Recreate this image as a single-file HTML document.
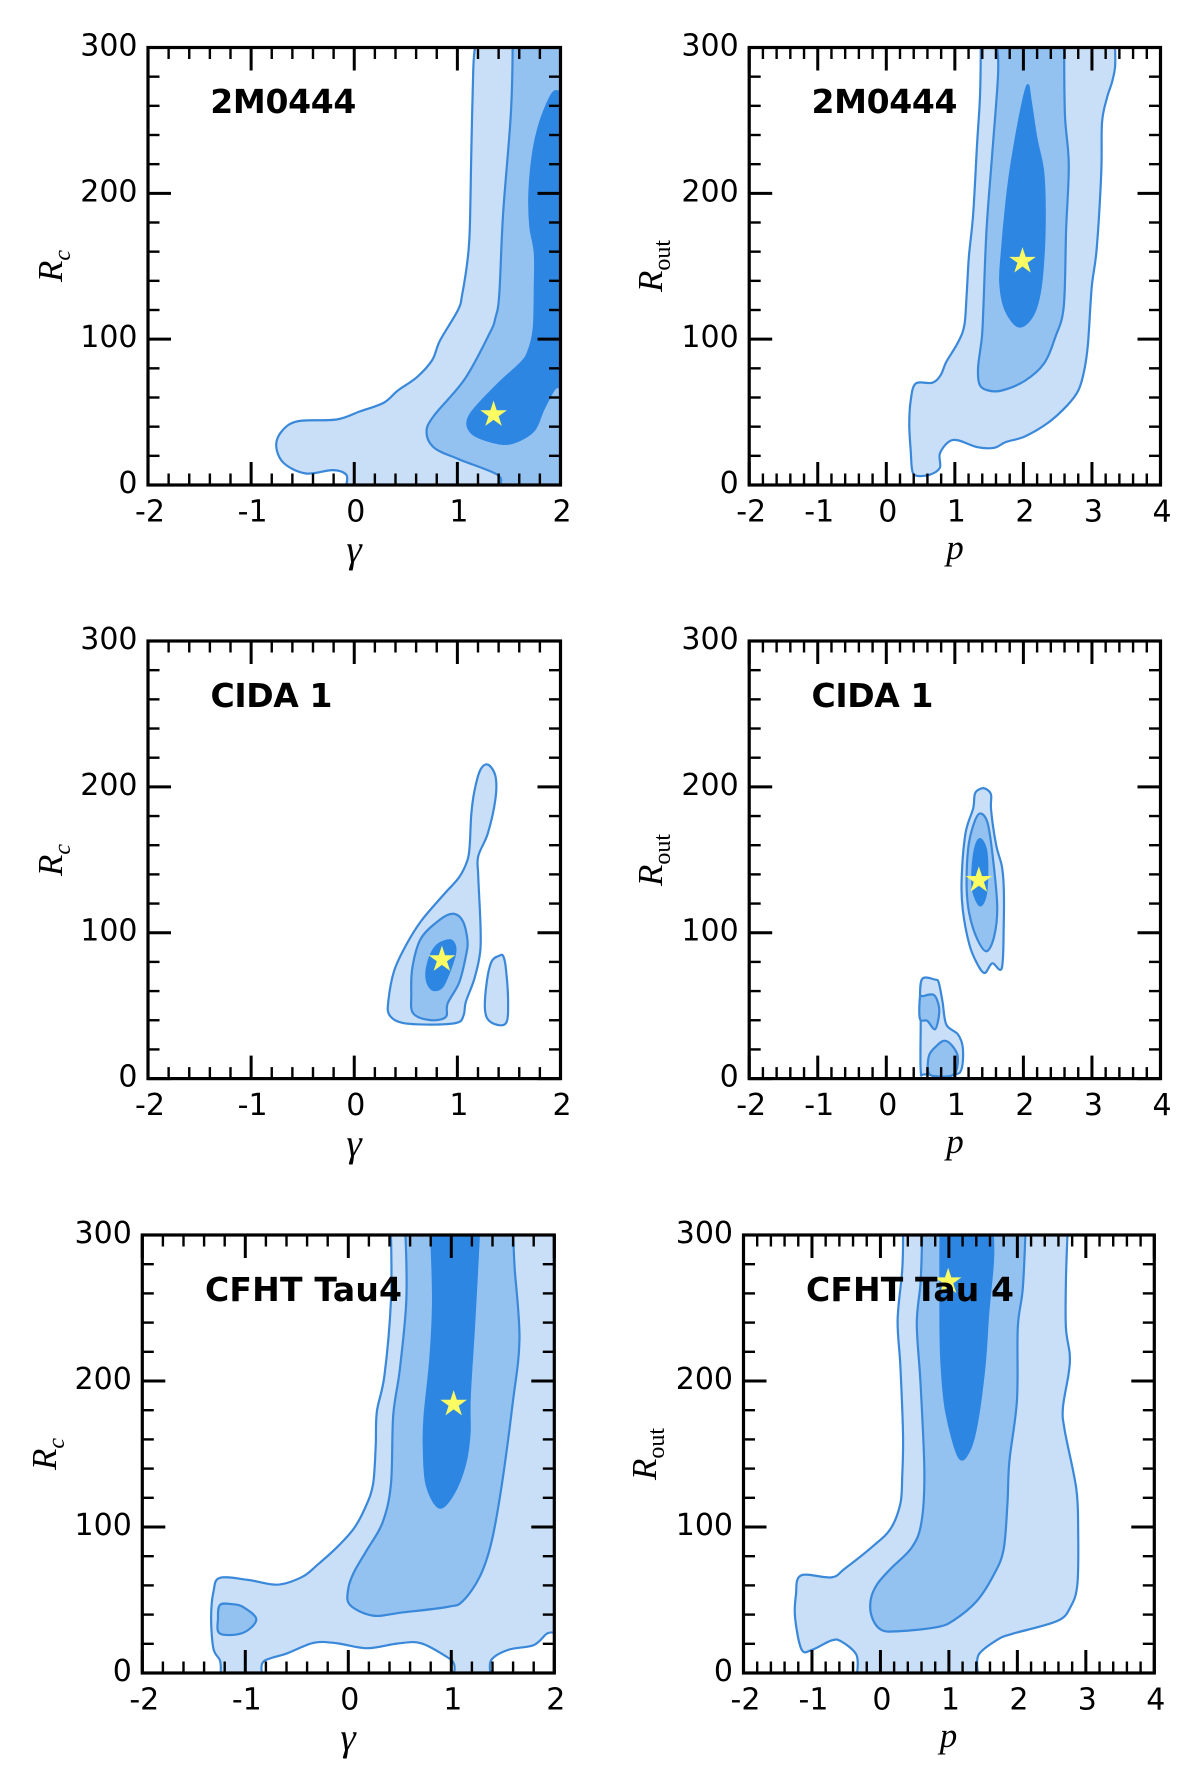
<!DOCTYPE html>
<html lang="en">
<head>
<meta charset="utf-8">
<title>Contour panels</title>
<style>
html,body{margin:0;padding:0;background:#fff;width:1200px;height:1786px;overflow:hidden}
svg{display:block}
.tick-label{font-family:"DejaVu Sans",sans-serif;font-size:30px;fill:#000}
.panel-title{font-family:"DejaVu Sans",sans-serif;font-weight:bold;font-size:33px;fill:#000}
.axis-math{font-family:"Liberation Serif",serif;font-style:italic;font-size:35px;fill:#000}
.gamma-math{font-size:39px}
.sub-italic{font-family:"Liberation Serif",serif;font-style:italic;font-size:24px}
.sub-roman{font-family:"Liberation Serif",serif;font-style:normal;font-size:24px}
</style>
</head>
<body>
<svg id="figure" xmlns="http://www.w3.org/2000/svg" width="1200" height="1786" viewBox="0 0 1200 1786">
  <g id="p1">
    <g class="marks"></g>
    <g class="axes"></g>
    <text class="panel-title" x="210.3" y="113" textLength="146">2M0444</text>
    <text class="axis-math gamma-math" x="354" y="562" text-anchor="middle">γ</text>
    <text class="axis-math" transform="translate(62,266) rotate(-90)" text-anchor="middle">R<tspan class="sub-italic" dy="8">c</tspan></text>
  </g>
  <g id="p2">
    <g class="marks"></g>
    <g class="axes"></g>
    <text class="panel-title" x="811.5" y="113" textLength="146">2M0444</text>
    <text class="axis-math" x="955" y="559" text-anchor="middle">p</text>
    <text class="axis-math" transform="translate(662,266) rotate(-90)" text-anchor="middle">R<tspan class="sub-roman" dy="8">out</tspan></text>
  </g>
  <g id="p3">
    <g class="marks"></g>
    <g class="axes"></g>
    <text class="panel-title" x="210.5" y="707" textLength="122">CIDA 1</text>
    <text class="axis-math gamma-math" x="354" y="1156" text-anchor="middle">γ</text>
    <text class="axis-math" transform="translate(62,860) rotate(-90)" text-anchor="middle">R<tspan class="sub-italic" dy="8">c</tspan></text>
  </g>
  <g id="p4">
    <g class="marks"></g>
    <g class="axes"></g>
    <text class="panel-title" x="811.5" y="707" textLength="122">CIDA 1</text>
    <text class="axis-math" x="955" y="1153" text-anchor="middle">p</text>
    <text class="axis-math" transform="translate(662,860) rotate(-90)" text-anchor="middle">R<tspan class="sub-roman" dy="8">out</tspan></text>
  </g>
  <g id="p5">
    <g class="marks"></g>
    <g class="axes"></g>
    <text class="panel-title" x="205" y="1301" textLength="197">CFHT Tau4</text>
    <text class="axis-math gamma-math" x="348" y="1750" text-anchor="middle">γ</text>
    <text class="axis-math" transform="translate(56,1454) rotate(-90)" text-anchor="middle">R<tspan class="sub-italic" dy="8">c</tspan></text>
  </g>
  <g id="p6">
    <g class="marks"></g>
    <g class="axes"></g>
    <text class="panel-title" x="806" y="1301" textLength="208">CFHT Tau 4</text>
    <text class="axis-math" x="948.5" y="1747" text-anchor="middle">p</text>
    <text class="axis-math" transform="translate(656,1454) rotate(-90)" text-anchor="middle">R<tspan class="sub-roman" dy="8">out</tspan></text>
  </g>
</svg>
<script>
// Tick values
const yTicks = [0, 100, 200, 300];
const gammaTicks = [-2, -1, 0, 1, 2];
const pTicks = [-2, -1, 0, 1, 2, 3, 4];

// Best-fit stars [x, y]
const star1 = [1.351, 48.3];
const star2 = [1.987, 153.5];
const star3 = [0.85, 81.6];
const star4 = [1.35, 135.9];
const star5 = [1.023, 184.2];
const star6 = [0.989, 268];

// Panel 1: 2M0444, gamma vs Rc
const p1Light = [[1.173,300],[1.154,285],[1.135,227.6],[1.12,175],[1.098,154],[1.046,130.4],[1.006,120],[0.831,99],[0.757,85.8],[0.609,74],[0.423,64.8],[0.286,56.4],[0.052,50.4],[-0.171,44.9],[-0.542,43.8],[-0.698,37.3],[-0.757,26.8],[-0.683,15],[-0.468,7.9],[-0.208,10.2],[-0.078,7.1],[-0.078,0],[2,0],[2,300]];
const p1Mid = [[1.536,300],[1.518,253.8],[1.443,185.6],[1.406,130.4],[1.369,114.7],[1.314,104.2],[1.072,72.7],[0.776,47.8],[0.701,36.5],[0.776,25.5],[1.017,17.6],[1.388,7.1],[1.41,0],[2,0],[2,300]];
const p1Dark = [[2,268.8],[1.926,268.8],[1.814,251.2],[1.74,230.2],[1.699,201.3],[1.707,177.7],[1.751,159.3],[1.751,135.6],[1.74,106.8],[1.685,91],[1.61,83.2],[1.388,68.7],[1.121,47.8],[1.135,36],[1.351,29.4],[1.536,28.9],[1.74,37.3],[1.833,51.7],[1.944,66.1],[2,66.1]];

// Panel 2: 2M0444, p vs Rout
const p2Light = [[1.378,300],[1.367,266.9],[1.323,232.8],[1.267,185.6],[1.205,156.7],[1.172,130.4],[1.138,109.4],[1.044,97.6],[0.876,84.5],[0.792,75.3],[0.67,70.1],[0.43,69.6],[0.357,58.3],[0.335,41.2],[0.357,22.8],[0.379,9.7],[0.446,6.3],[0.636,7.1],[0.781,11.8],[0.781,21.5],[0.904,29.4],[1.044,30.7],[1.323,26],[1.574,25.5],[1.741,29.4],[2.02,33.3],[2.355,42.5],[2.634,54.3],[2.801,64.8],[2.885,78],[2.941,96.3],[2.997,135.7],[3.069,161.9],[3.136,214.4],[3.147,248.6],[3.22,265.6],[3.292,276.1],[3.337,286.6],[3.337,300]];
const p2Mid = [[1.618,300],[1.629,280],[1.546,227.6],[1.462,175],[1.417,122.6],[1.395,101.6],[1.339,80.6],[1.362,68.8],[1.49,64.8],[1.685,64.8],[2.02,71.4],[2.299,83.2],[2.467,101.6],[2.589,122.6],[2.623,175],[2.662,219.7],[2.606,253.8],[2.595,300]];
const p2Dark = [[2.059,274],[1.964,256.4],[1.825,219.7],[1.752,193.4],[1.685,159.3],[1.663,138.3],[1.741,119.9],[1.936,108.7],[2.132,116],[2.243,133],[2.299,161.9],[2.31,193.4],[2.282,217],[2.188,238],[2.104,264]];

// Panel 3: CIDA 1, gamma vs Rc
const p3Light = [[1.295,215.3],[1.221,211.4],[1.165,197],[1.135,181.3],[1.12,160.3],[1.098,149.8],[1.017,138],[0.868,126.2],[0.646,107.8],[0.497,90.8],[0.386,73.7],[0.33,52.8],[0.341,43.6],[0.46,38.3],[0.738,37],[0.998,38.3],[1.061,43.6],[1.083,52.8],[1.165,68.5],[1.221,86.8],[1.224,105.2],[1.202,139.3],[1.202,152.4],[1.295,168.1],[1.369,191.7],[1.369,207.4]];
const p3LightB = [[1.406,84.2],[1.332,80.3],[1.284,65.8],[1.269,46.2],[1.332,38.3],[1.469,37.8],[1.492,52.7],[1.469,76.3],[1.443,84.2]];
const p3Mid = [[0.961,113],[0.831,109],[0.646,96],[0.564,76.3],[0.553,58],[0.571,44.8],[0.738,40.1],[0.887,42.2],[0.905,51.4],[1.017,65.8],[1.083,84.2],[1.098,94.7],[1.054,107.8]];
const p3Dark = [[0.905,94.7],[0.794,90.7],[0.72,80.3],[0.701,68.4],[0.757,61.1],[0.85,62.7],[0.924,73.7],[0.98,86.8],[0.961,93.4]];

// Panel 4: CIDA 1, p vs Rout
const p4Light = [[1.395,199],[1.295,195.6],[1.267,185.2],[1.155,168.1],[1.099,136.6],[1.116,115.6],[1.211,92],[1.323,79],[1.434,72.4],[1.546,79],[1.685,75.8],[1.713,105.2],[1.713,131.4],[1.685,145.8],[1.602,160.3],[1.529,183.9],[1.529,194.4],[1.473,198]];
const p4LightB = [[0.525,68.4],[0.491,55.3],[0.502,39.6],[0.502,5.5],[0.569,2.9],[0.988,2.9],[1.099,6.8],[1.116,21.2],[1.044,30.4],[0.876,37],[0.82,52.7],[0.765,65.8],[0.709,67.9]];
const p4Mid = [[1.362,181.7],[1.267,173.4],[1.194,157.6],[1.172,131.4],[1.211,113],[1.323,96],[1.462,87.3],[1.574,97.6],[1.618,118.3],[1.546,155],[1.473,176]];
const p4MidB = [[0.541,56.6],[0.491,55.3],[0.491,40.9],[0.597,39.6],[0.709,33.8],[0.765,42.2],[0.765,50],[0.692,57.4]];
const p4MidC = [[0.625,16],[0.614,4.2],[0.737,1.6],[0.988,2.9],[1.044,14.7],[0.96,22.6],[0.848,26],[0.737,22.6]];
const p4Dark = [[1.367,164.2],[1.295,157.6],[1.256,141.9],[1.267,128.8],[1.367,118.8],[1.451,126.1],[1.473,144.5],[1.451,157.6]];

// Panel 5: CFHT Tau4, gamma vs Rc
const p5Light = [[0.414,300],[0.414,254.9],[0.351,203.8],[0.277,178.9],[0.266,155.4],[0.24,129.2],[0.165,113.4],[0.054,99],[-0.113,85.9],[-0.299,74.1],[-0.448,65.8],[-0.689,60.5],[-0.968,63.7],[-1.246,65.2],[-1.309,55.8],[-1.332,37.5],[-1.309,16.5],[-1.246,8.6],[-1.239,0],[-0.838,0],[-0.819,8.1],[-0.596,13.4],[-0.336,20.7],[-0.113,20.4],[0.184,17],[0.481,20.2],[0.704,20.4],[0.964,10.7],[1.027,6],[1.027,0],[1.38,0],[1.391,9.2],[1.558,16],[1.8,19.1],[1.929,27],[2,27.5],[2,300]];
const p5Mid = [[0.555,300],[0.563,254.9],[0.5,207.8],[0.436,176.3],[0.414,129.2],[0.332,103],[0.184,84.6],[0.054,68.9],[-0.002,57.1],[0.017,46.6],[0.24,39.3],[0.518,41.4],[0.964,45.3],[1.112,49.3],[1.279,66.3],[1.391,89.9],[1.491,129.2],[1.595,184.2],[1.662,228.7],[1.614,278.5],[1.603,300]];
const p5MidB = [[-1.246,46.6],[-1.265,37.5],[-1.246,27],[-1.023,27.5],[-0.893,36.7],[-1.023,45.3],[-1.135,47.2]];
const p5Dark = [[0.804,300],[0.823,254.9],[0.797,215.6],[0.741,176.3],[0.733,155.4],[0.76,129.2],[0.882,113.4],[1.019,122.6],[1.131,142.3],[1.176,163.2],[1.179,189.4],[1.224,241.8],[1.268,300]];

// Panel 6: CFHT Tau 4, p vs Rout
const p6Light = [[0.33,300],[0.318,275.9],[0.251,241.8],[0.291,210.4],[0.33,163.2],[0.318,134.4],[0.291,116],[0.151,99],[-0.101,87.2],[-0.52,71.5],[-0.715,65.5],[-1.162,66.8],[-1.235,53.2],[-1.246,37.5],[-1.151,16],[-0.994,16],[-0.715,22.3],[-0.575,21.7],[-0.352,12.6],[-0.341,0],[1.425,0],[1.436,12.6],[1.715,23],[1.939,27],[2.581,35.6],[2.777,45.3],[2.877,61],[2.888,97.7],[2.86,126.5],[2.693,165.8],[2.665,181.6],[2.749,205.1],[2.765,218.2],[2.709,236.6],[2.709,268],[2.732,300]];
const p6Mid = [[0.609,300],[0.587,268],[0.531,239.2],[0.587,197.3],[0.642,137],[0.598,103],[0.458,86],[0.151,71.5],[-0.045,61],[-0.14,50.6],[-0.128,38.8],[0.011,29.6],[0.263,28.6],[0.821,31.4],[1.073,36.2],[1.408,49.3],[1.659,67.6],[1.799,84.6],[1.855,116],[1.883,144.9],[1.994,186.8],[2.006,236.6],[2.078,262.8],[2.117,300]];
const p6Dark = [[0.877,300],[0.877,239.2],[0.894,210.4],[0.961,178.9],[1.145,148],[1.296,152.2],[1.408,171],[1.52,210.4],[1.575,247],[1.642,281],[1.642,300]];

const LIGHT = '#c9dff7', MID = '#93c2f1', DARK = '#2e86e3', EDGE = '#3a88d9';
const STAR = '#fbfb62';
const SVGNS = 'http://www.w3.org/2000/svg';

function panelSpec(id, left, right, top, bottom, xTicks, layers, star) {
  return {id, left, right, top, bottom, xTicks, layers, star};
}
const specs = [
  panelSpec('p1', 148, 560.5, 47.5, 485, gammaTicks, [[p1Light, LIGHT], [p1Mid, MID], [p1Dark, DARK]], star1),
  panelSpec('p2', 749.2, 1160.5, 47.5, 485, pTicks, [[p2Light, LIGHT], [p2Mid, MID], [p2Dark, DARK]], star2),
  panelSpec('p3', 148, 560.5, 641, 1078.6, gammaTicks, [[p3Light, LIGHT], [p3LightB, LIGHT], [p3Mid, MID], [p3Dark, DARK]], star3),
  panelSpec('p4', 749.2, 1160.5, 641, 1078.6, pTicks, [[p4Light, LIGHT], [p4LightB, LIGHT], [p4Mid, MID], [p4MidB, MID], [p4MidC, MID], [p4Dark, DARK]], star4),
  panelSpec('p5', 142.3, 554.3, 1235, 1673, gammaTicks, [[p5Light, LIGHT], [p5Mid, MID], [p5MidB, MID], [p5Dark, DARK]], star5),
  panelSpec('p6', 743.5, 1154.3, 1235, 1673, pTicks, [[p6Light, LIGHT], [p6Mid, MID], [p6Dark, DARK]], star6)
];

function make(tag, attrs, parent) {
  const el = document.createElementNS(SVGNS, tag);
  for (const k in attrs) el.setAttribute(k, attrs[k]);
  parent.appendChild(el);
  return el;
}

function axisFns(s) {
  const x0 = s.xTicks[0], x1 = s.xTicks[s.xTicks.length - 1];
  const y0 = yTicks[0], y1 = yTicks[yTicks.length - 1];
  return {
    x0, x1, y0, y1,
    sx: v => s.left + (v - x0) / (x1 - x0) * (s.right - s.left),
    sy: v => s.bottom - (v - y0) / (y1 - y0) * (s.bottom - s.top)
  };
}

// Smooth closed path; vertices on the plot boundary stay sharp.
function contourPath(pts, a) {
  const n = pts.length;
  const onEdge = p => p[0] <= a.x0 || p[0] >= a.x1 || p[1] <= a.y0 || p[1] >= a.y1;
  const px = pts.map(p => [a.sx(p[0]), a.sy(p[1])]);
  const tan = px.map((p, i) => {
    if (onEdge(pts[i])) return [0, 0];
    const prev = px[(i - 1 + n) % n], next = px[(i + 1) % n];
    return [(next[0] - prev[0]) / 6, (next[1] - prev[1]) / 6];
  });
  let d = 'M' + px[0][0].toFixed(2) + ' ' + px[0][1].toFixed(2);
  for (let i = 0; i < n; i++) {
    const j = (i + 1) % n;
    d += 'C' + (px[i][0] + tan[i][0]).toFixed(2) + ' ' + (px[i][1] + tan[i][1]).toFixed(2) + ' ' +
         (px[j][0] - tan[j][0]).toFixed(2) + ' ' + (px[j][1] - tan[j][1]).toFixed(2) + ' ' +
         px[j][0].toFixed(2) + ' ' + px[j][1].toFixed(2);
  }
  return d + 'Z';
}

function starPoints(cx, cy, R) {
  const r = R * 0.382, out = [];
  for (let i = 0; i < 10; i++) {
    const rad = i % 2 ? r : R, t = -Math.PI / 2 + i * Math.PI / 5;
    out.push((cx + rad * Math.cos(t)).toFixed(2) + ',' + (cy + rad * Math.sin(t)).toFixed(2));
  }
  return out.join(' ');
}

const MAJOR = 23, MINOR = 11.5, XMINORS = 5, YMINORS = 5;

specs.forEach(s => {
  const a = axisFns(s);
  const group = document.getElementById(s.id);
  const marks = group.querySelector('.marks');
  const axes = group.querySelector('.axes');

  const defs = make('defs', {}, marks);
  const clip = make('clipPath', {id: 'clip-' + s.id}, defs);
  make('rect', {x: s.left, y: s.top, width: s.right - s.left, height: s.bottom - s.top}, clip);
  marks.setAttribute('clip-path', 'url(#clip-' + s.id + ')');

  s.layers.forEach(layer => {
    const el = make('path', {d: contourPath(layer[0], a), fill: layer[1], stroke: layer[1] === DARK ? DARK : EDGE, 'stroke-width': 2.2, 'stroke-linejoin': 'round'}, marks);
    
    
  });

  const starEl = make('polygon', {points: starPoints(a.sx(s.star[0]), a.sy(s.star[1]), 14), fill: STAR}, marks);
  
  

  const tick = (x1, y1, x2, y2, w) => {
    const el = make('line', {x1, y1, x2, y2, stroke: '#000', 'stroke-width': w}, axes);
    
    
  };

  s.xTicks.forEach((v, i) => {
    const x = a.sx(v);
    tick(x, s.bottom, x, s.bottom - MAJOR, 3);
    tick(x, s.top, x, s.top + MAJOR, 3);
    const label = make('text', {x: x + (i === 0 ? 2 : 1.5), y: s.bottom + 36.3, 'text-anchor': 'middle', class: 'tick-label'}, axes);
    label.textContent = String(v);
    
    
    if (i < s.xTicks.length - 1) {
      const step = (s.xTicks[i + 1] - v) / XMINORS;
      for (let k = 1; k < XMINORS; k++) {
        const mx = a.sx(v + k * step);
        tick(mx, s.bottom, mx, s.bottom - MINOR, 2.4);
        tick(mx, s.top, mx, s.top + MINOR, 2.4);
      }
    }
  });

  yTicks.forEach((v, i) => {
    const y = a.sy(v);
    tick(s.left, y, s.left + MAJOR, y, 3);
    tick(s.right, y, s.right - MAJOR, y, 3);
    const label = make('text', {x: s.left - 10.5, y: y + 8, 'text-anchor': 'end', class: 'tick-label'}, axes);
    label.textContent = String(v);
    
    
    if (i < yTicks.length - 1) {
      const step = (yTicks[i + 1] - v) / YMINORS;
      for (let k = 1; k < YMINORS; k++) {
        const my = a.sy(v + k * step);
        tick(s.left, my, s.left + MINOR, my, 2.4);
        tick(s.right, my, s.right - MINOR, my, 2.4);
      }
    }
  });

  const frame = make('rect', {x: s.left, y: s.top, width: s.right - s.left, height: s.bottom - s.top, fill: 'none', stroke: '#000', 'stroke-width': 3.2}, axes);
  
  
});
</script>
</body>
</html>
